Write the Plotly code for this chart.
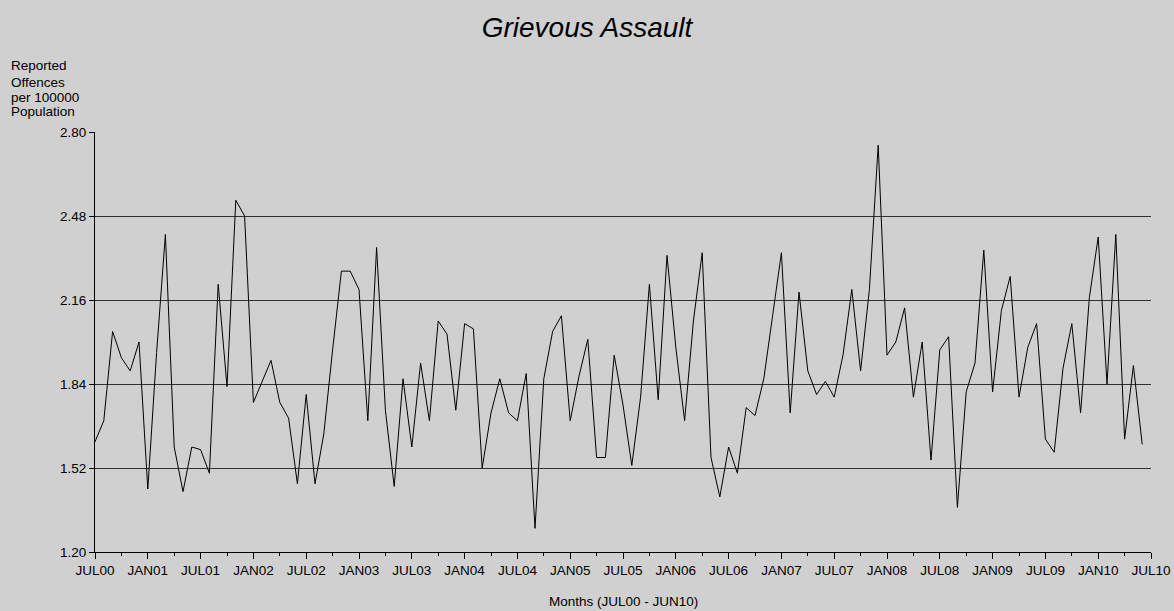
import plotly.graph_objects as go

title_text = "Grievous Assault"
y_title_lines = ["Reported", "Offences", "per 100000", "Population"]
x_title = "Months (JUL00 - JUN10)"

# Monthly rate, JUL00 .. JUN10
values = [
    1.62, 1.70, 2.04, 1.94, 1.89, 2.00, 1.44, 1.96, 2.41, 1.60, 1.43, 1.60,
    1.59, 1.50, 2.22, 1.83, 2.54, 2.48, 1.77, 1.85, 1.93, 1.77, 1.71, 1.46,
    1.80, 1.46, 1.65, 1.97, 2.27, 2.27, 2.20, 1.70, 2.36, 1.74, 1.45, 1.86,
    1.60, 1.92, 1.70, 2.08, 2.03, 1.74, 2.07, 2.05, 1.52, 1.73, 1.86, 1.73,
    1.70, 1.88, 1.29, 1.86, 2.04, 2.10, 1.70, 1.87, 2.01, 1.56, 1.56, 1.95,
    1.76, 1.53, 1.79, 2.22, 1.78, 2.33, 1.98, 1.70, 2.08, 2.34, 1.56, 1.41,
    1.60, 1.50, 1.75, 1.72, 1.86, 2.10, 2.34, 1.73, 2.19, 1.89, 1.80, 1.85,
    1.79, 1.95, 2.20, 1.89, 2.20, 2.75, 1.95, 2.00, 2.13, 1.79, 2.00, 1.55,
    1.97, 2.02, 1.37, 1.81, 1.92, 2.35, 1.81, 2.12, 2.25, 1.79, 1.98, 2.07,
    1.63, 1.58, 1.90, 2.07, 1.73, 2.17, 2.40, 1.84, 2.41, 1.63, 1.91, 1.61,
]

tick_labels = ["JUL00", "JAN01", "JUL01", "JAN02", "JUL02", "JAN03", "JUL03",
               "JAN04", "JUL04", "JAN05", "JUL05", "JAN06", "JUL06", "JAN07",
               "JUL07", "JAN08", "JUL08", "JAN09", "JUL09", "JAN10", "JUL10"]
y_ticks = [1.20, 1.52, 1.84, 2.16, 2.48, 2.80]

n = len(values)
months = list(range(n))
tick_step = 6
tickvals = [i * tick_step for i in range(len(tick_labels))]
minor_vals = [v + tick_step // 2 for v in tickvals[:-1]]

BG = "#D0D0D0"
FONT = "Liberation Sans, Arial, sans-serif"

fig = go.Figure()
fig.add_trace(go.Scatter(x=months, y=values, mode="lines",
                         line=dict(color="black", width=1), hoverinfo="skip"))

fig.update_layout(
    width=1174, height=611,
    paper_bgcolor=BG, plot_bgcolor=BG,
    margin=dict(l=95, r=23, t=132, b=59, autoexpand=False),
    showlegend=False,
    font=dict(family=FONT, color="black", size=13.5),
    title=dict(text="<i>" + title_text + "</i>", x=0.5, xref="container",
               xanchor="center", y=1 - 27 / 611, yref="container", yanchor="middle",
               font=dict(family=FONT, size=28, color="black")),
)

fig.update_xaxes(
    range=[0, n], tickmode="array", tickvals=tickvals, ticktext=tick_labels,
    showgrid=False, zeroline=False, showline=True, linecolor="black", linewidth=1,
    ticks="outside", ticklen=6, tickcolor="black", tickwidth=1,
    tickfont=dict(family=FONT, size=13.5, color="black"),
    minor=dict(tickmode="array", tickvals=minor_vals, ticks="outside",
               ticklen=3, tickcolor="black", tickwidth=1, showgrid=False),
)
fig.update_yaxes(
    range=[1.2, 2.8], tickmode="array", tickvals=y_ticks,
    ticktext=["%.2f" % v for v in y_ticks],
    showgrid=True, gridcolor="#303030", gridwidth=1,
    zeroline=False, showline=True, linecolor="black", linewidth=1,
    ticks="outside", ticklen=5, tickcolor="black", tickwidth=1,
    tickfont=dict(family=FONT, size=13.5, color="black"),
)

plot_top, plot_bottom = 132, 552
ph = plot_bottom - plot_top
line_centers = [66, 82, 97, 112]
for txt, yc in zip(y_title_lines, line_centers):
    fig.add_annotation(text=txt, xref="paper", yref="paper",
                       x=(9 - 95) / 1056, y=(plot_bottom - yc) / ph,
                       xanchor="left", yanchor="middle", showarrow=False,
                       font=dict(family=FONT, size=13.5, color="black"))

fig.add_annotation(text=x_title, xref="paper", yref="paper",
                   x=0.5, y=(plot_bottom - 601) / ph, xanchor="center",
                   yanchor="middle", showarrow=False,
                   font=dict(family=FONT, size=13.5, color="black"))

fig.write_html(
    "out.html",
    config={"displayModeBar": False},
    post_script="document.body.style.margin='0';document.body.style.background='%s';" % BG,
)
